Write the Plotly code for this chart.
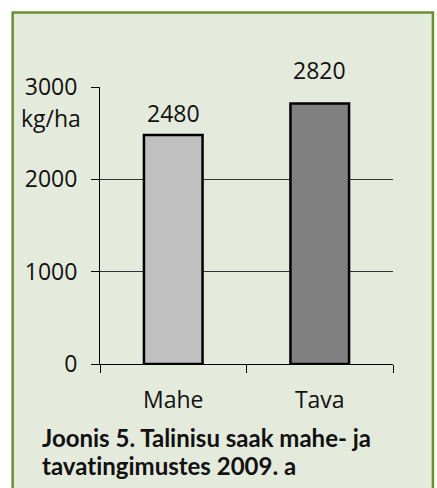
import plotly.graph_objects as go

## Data
categories=["Mahe","Tava"]
yields=[2480,2820]
bar_colors=["#c0c0c0","#808080"]
tick_values=[0,1000,2000,3000]
unit_label="kg/ha"
caption_lines=["Joonis 5. Talinisu saak mahe- ja","tavatingimustes 2009. a"]

W,H=437,488
ml,mr,mt,mb=100,43.5,87,124
pw=W-ml-mr
ph=H-mt-mb

def px_x(x):
    return (x-ml)/pw

def px_y(y):
    return (H-mb-y)/ph

font_family="'Open Sans', Lato, sans-serif"
title_family="Lato, 'Open Sans', sans-serif"
txt="#111"
fs=23

fig=go.Figure()
fig.add_trace(go.Bar(
    x=categories,
    y=yields,
    width=0.4,
    marker=dict(color=bar_colors,line=dict(color="black",width=2.5)),
    cliponaxis=False,
))

# value labels (Excel put the taller one above the frame)
label_shift=[4,16]
for cat,val,sh in zip(categories,yields,label_shift):
    fig.add_annotation(x=cat,y=val,text=str(val),showarrow=False,
        yanchor="bottom",yshift=sh,font=dict(size=fs,color=txt))

# green framed panel
fig.add_shape(type="rect",xref="paper",yref="paper",
    x0=px_x(12.5),x1=px_x(433.5),y0=px_y(520),y1=px_y(12.5),
    line=dict(color="#6b8e2f",width=2.5),fillcolor="#e4eadc",layer="below")

fig.add_annotation(text=unit_label,xref="paper",yref="paper",
    x=px_x(83),y=px_y(118),xanchor="right",yanchor="middle",
    showarrow=False,font=dict(size=fs,color=txt))

for line,base in zip(caption_lines,[445,473]):
    fig.add_annotation(text="<b>"+line+"</b>",xref="paper",yref="paper",
        x=px_x(40),y=px_y(base-8),xanchor="left",yanchor="middle",align="left",
        showarrow=False,font=dict(size=24,color=txt,family=title_family))

fig.update_yaxes(range=[0,3000],tickvals=tick_values,
    showgrid=True,gridcolor="#333",gridwidth=1,
    showline=True,linecolor="black",linewidth=1,
    ticks="outside",ticklen=8,tickcolor="black",
    ticklabelstandoff=9,zeroline=False,
    tickfont=dict(size=fs,color=txt))
fig.update_xaxes(showline=True,linecolor="black",linewidth=1,
    ticks="outside",ticklen=8,tickcolor="black",tickson="boundaries",
    ticklabelstandoff=15,
    tickfont=dict(size=fs,color=txt))

fig.update_layout(width=W,height=H,
    margin=dict(l=ml,r=mr,t=mt,b=mb),
    paper_bgcolor="white",plot_bgcolor="rgba(0,0,0,0)",
    font=dict(family=font_family),
    showlegend=False,bargap=0.6)

js=("document.body.style.margin='0';document.body.style.overflow='hidden';"
    "var s=document.createElement('style');"
    "s.textContent='text,tspan{font-variant-ligatures:none !important;"
    "font-feature-settings:\"liga\" 0,\"clig\" 0 !important;}';"
    "document.head.appendChild(s);")
fig.write_html("out.html",post_script=js,config={"displayModeBar":False})
